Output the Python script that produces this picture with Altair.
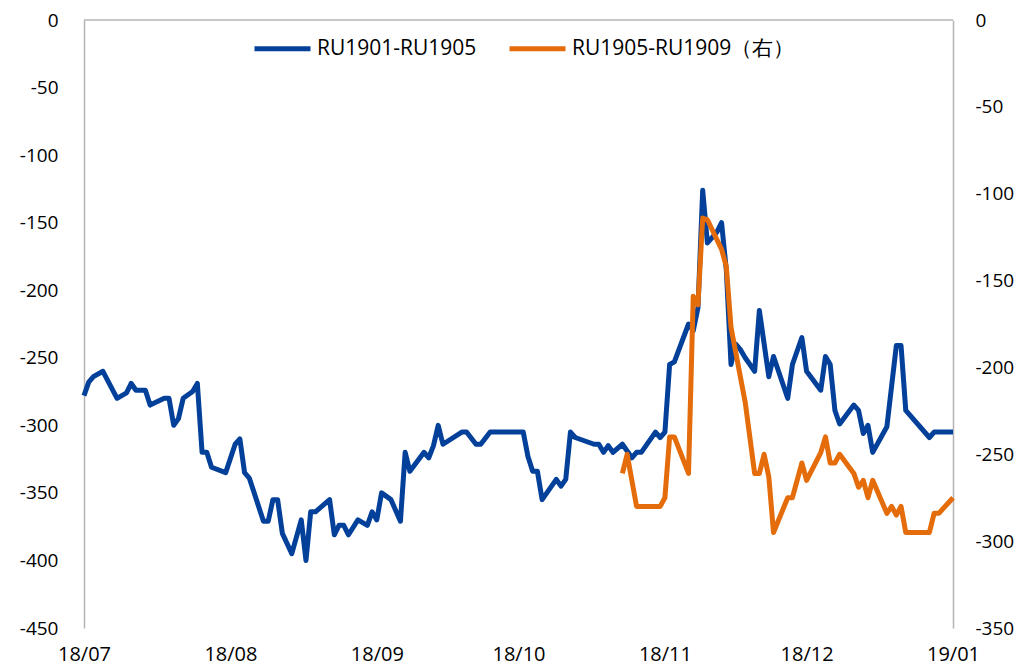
import altair as alt
import pandas as pd

SERIES = ["RU1901-RU1905", "RU1905-RU1909（右）"]
COLORS = ["#03409A", "#E46C0A"]

blue_dates = [
    "2018-07-01", "2018-07-02", "2018-07-03", "2018-07-05", "2018-07-08", "2018-07-10",
    "2018-07-11", "2018-07-12", "2018-07-14", "2018-07-15", "2018-07-18", "2018-07-19",
    "2018-07-20", "2018-07-21", "2018-07-22", "2018-07-24", "2018-07-25", "2018-07-26",
    "2018-07-27", "2018-07-28", "2018-07-31", "2018-08-02", "2018-08-03", "2018-08-04",
    "2018-08-05", "2018-08-08", "2018-08-09", "2018-08-10", "2018-08-11", "2018-08-12",
    "2018-08-14", "2018-08-16", "2018-08-17", "2018-08-18", "2018-08-19", "2018-08-22",
    "2018-08-23", "2018-08-24", "2018-08-25", "2018-08-26", "2018-08-28", "2018-08-30",
    "2018-08-31", "2018-09-01", "2018-09-02", "2018-09-04", "2018-09-06", "2018-09-07",
    "2018-09-08", "2018-09-11", "2018-09-12", "2018-09-13", "2018-09-14", "2018-09-15",
    "2018-09-19", "2018-09-20", "2018-09-22", "2018-09-23", "2018-09-25", "2018-10-02",
    "2018-10-03", "2018-10-04", "2018-10-05", "2018-10-06", "2018-10-09", "2018-10-10",
    "2018-10-11", "2018-10-12", "2018-10-13", "2018-10-17", "2018-10-18", "2018-10-19",
    "2018-10-20", "2018-10-21", "2018-10-23", "2018-10-25", "2018-10-26", "2018-10-27",
    "2018-10-30", "2018-10-31", "2018-11-01", "2018-11-02", "2018-11-03", "2018-11-06",
    "2018-11-07", "2018-11-08", "2018-11-09", "2018-11-10", "2018-11-12", "2018-11-13",
    "2018-11-14", "2018-11-15", "2018-11-16", "2018-11-17", "2018-11-18", "2018-11-20",
    "2018-11-21", "2018-11-23", "2018-11-24", "2018-11-27", "2018-11-28", "2018-11-30",
    "2018-12-01", "2018-12-04", "2018-12-05", "2018-12-06", "2018-12-07", "2018-12-08",
    "2018-12-11", "2018-12-12", "2018-12-13", "2018-12-14", "2018-12-15", "2018-12-18",
    "2018-12-20", "2018-12-21", "2018-12-22", "2018-12-27", "2018-12-28", "2019-01-01",
]
blue_values = [
    -278, -268, -264, -260, -280, -276,
    -269, -274, -274, -285, -280, -280,
    -300, -295, -280, -275, -269, -320,
    -320, -331, -335, -314, -310, -335,
    -339, -371, -371, -355, -355, -380,
    -395, -370, -400, -364, -364, -355,
    -381, -374, -374, -381, -370, -374,
    -364, -370, -350, -355, -371, -320,
    -334, -320, -324, -315, -300, -314,
    -305, -305, -314, -314, -305, -305,
    -323, -334, -334, -355, -340, -345,
    -340, -305, -309, -314, -314, -320,
    -315, -320, -314, -324, -320, -320,
    -305, -309, -305, -255, -253, -225,
    -230, -213, -126, -165, -157, -150,
    -185, -255, -240, -244, -250, -260,
    -215, -264, -249, -280, -255, -235,
    -260, -274, -249, -255, -289, -299,
    -285, -289, -306, -300, -320, -301,
    -241, -241, -289, -309, -305, -305,
]

orange_dates = [
    "2018-10-23", "2018-10-24", "2018-10-25", "2018-10-26", "2018-10-31", "2018-11-01",
    "2018-11-02", "2018-11-03", "2018-11-06", "2018-11-07", "2018-11-08", "2018-11-09",
    "2018-11-10", "2018-11-13", "2018-11-14", "2018-11-15", "2018-11-18", "2018-11-20",
    "2018-11-21", "2018-11-22", "2018-11-23", "2018-11-24", "2018-11-27", "2018-11-28",
    "2018-11-30", "2018-12-01", "2018-12-04", "2018-12-05", "2018-12-06", "2018-12-07",
    "2018-12-08", "2018-12-11", "2018-12-12", "2018-12-13", "2018-12-14", "2018-12-15",
    "2018-12-18", "2018-12-19", "2018-12-20", "2018-12-21", "2018-12-22", "2018-12-27",
    "2018-12-28", "2018-12-29", "2019-01-01",
]
orange_values = [
    -261, -250, -265, -280, -280, -275,
    -240, -240, -261, -159, -164, -114,
    -115, -132, -142, -177, -220, -261,
    -261, -250, -263, -295, -275, -275,
    -255, -265, -249, -240, -255, -255,
    -250, -261, -269, -265, -275, -265,
    -284, -280, -285, -280, -295, -295,
    -284, -284, -275,
]

x_ticks = ["2018-07-01", "2018-08-01", "2018-09-01", "2018-10-01",
           "2018-11-01", "2018-12-01", "2019-01-01"]


def dt(s):
    y, m, d = (int(p) for p in s.split("-"))
    return alt.DateTime(year=y, month=m, date=d)


df1 = pd.DataFrame({"date": blue_dates, "value": blue_values, "series": SERIES[0]})
df2 = pd.DataFrame({"date": orange_dates, "value": orange_values, "series": SERIES[1]})

W, H = 869, 608
FONT = "Open Sans"
AXIS_GRAY = "#b4b4b4"

x_enc = alt.X(
    "date:T",
    scale=alt.Scale(domain=[dt(x_ticks[0]), dt(x_ticks[-1])]),
    axis=alt.Axis(
        values=[dt(s) for s in x_ticks], format="%y/%m", title=None,
        domain=False, ticks=False, grid=False, labelPadding=16, labelFlush=False,
        labelFont=FONT, labelFontSize=20, labelColor="#000000",
    ),
)

color_enc = alt.Color(
    "series:N",
    scale=alt.Scale(domain=SERIES, range=COLORS),
    legend=alt.Legend(
        title=None, orient="none", legendX=168, legendY=-2, direction="horizontal",
        symbolType="stroke", symbolStrokeWidth=5, symbolSize=3136,
        labelFont=FONT, labelFontSize=21, labelColor="#000000", labelOffset=4,
        labelLimit=400, columnPadding=22,
    ),
)

y_left_axis = alt.Axis(
    orient="left", values=list(range(0, -451, -50)), title=None,
    grid=False, ticks=False, domain=True, domainColor=AXIS_GRAY, domainWidth=1.5,
    labelPadding=26, labelFont=FONT, labelFontSize=19, labelColor="#000000",
    labelExpr="toString(datum.value)",
)
y_right_axis = alt.Axis(
    orient="right", values=list(range(0, -351, -50)), title=None,
    grid=False, ticks=False, domain=True, domainColor=AXIS_GRAY, domainWidth=1.5,
    labelPadding=22, labelFont=FONT, labelFontSize=19, labelColor="#000000",
    labelExpr="toString(datum.value)",
)

left = alt.Chart(df1).mark_line(strokeWidth=5, strokeJoin="round").encode(
    x=x_enc,
    y=alt.Y("value:Q", scale=alt.Scale(domain=[-450, 0], nice=False, zero=False),
            axis=y_left_axis),
    color=color_enc,
)

right = alt.Chart(df2).mark_line(strokeWidth=5, strokeJoin="round").encode(
    x=x_enc,
    y=alt.Y("value:Q", scale=alt.Scale(domain=[-350, 0], nice=False, zero=False),
            axis=y_right_axis),
    color=color_enc,
)

top_line = alt.Chart(pd.DataFrame({"k": [0]})).mark_rule(
    color=AXIS_GRAY, strokeWidth=1.5
).encode(x=alt.value(0), x2=alt.value(W), y=alt.value(0))

chart = (
    alt.layer(top_line, left, right)
    .resolve_scale(y="independent")
    .properties(
        width=W, height=H,
        autosize=alt.AutoSizeParams(type="none"),
        padding={"left": 76, "top": 12, "right": 67, "bottom": 42},
        background="white",
    )
    .configure_view(stroke=None)
)

chart.save("out.html", embed_options={"renderer": "svg", "actions": False})
